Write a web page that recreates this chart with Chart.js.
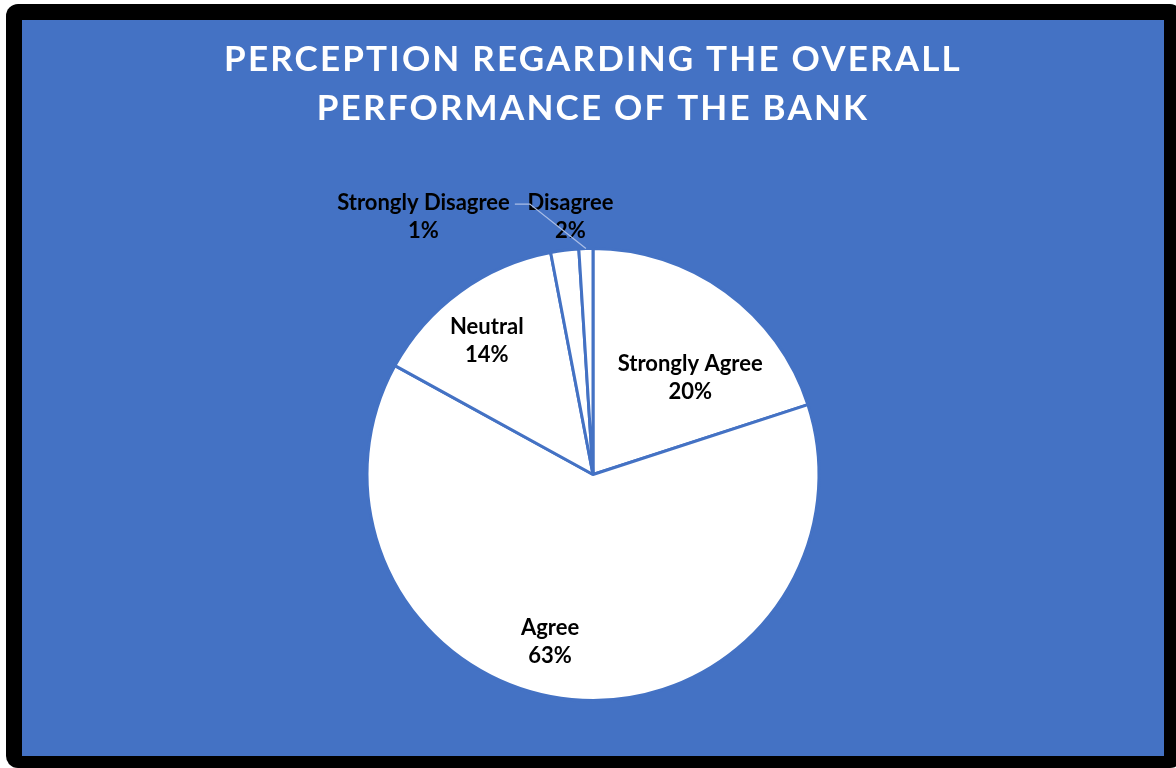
<!DOCTYPE html>
<html>
<head>
<meta charset="utf-8">
<script src="https://cdn.jsdelivr.net/npm/chart.js@4.4.1/dist/chart.umd.min.js"></script>
<style>
  html, body { margin: 0; padding: 0; background: #fff; }
  #frame {
    position: absolute; left: 6px; top: 4px; width: 1176px; height: 764px;
    background: #000; border-radius: 12px;
  }
  #box {
    position: absolute; left: 22px; top: 20px; width: 1142px; height: 736px;
    background: #4472C4;
  }
</style>
</head>
<body>
<div id="frame"></div>
<div id="box"><canvas id="myChart"></canvas></div>
<script>
var categories = ['Strongly Agree', 'Agree', 'Neutral', 'Disagree', 'Strongly Disagree']
var shares = [20, 63, 14, 2, 1]
var titleLines = ['PERCEPTION REGARDING THE OVERALL', 'PERFORMANCE OF THE BANK']

var blue = '#4472C4'

// where each label sits, in units of the pie radius from its centre
var labelSpots = [[0.43, -0.46], [-0.19, 0.71], [-0.47, -0.62], [-0.10, -1.17], [-0.75, -1.17]]

var titleSpacing = {
    id: 'titleSpacing',
    beforeDraw: function(chart) { chart.ctx.letterSpacing = '2.2px' },
    beforeDatasetsDraw: function(chart) { chart.ctx.letterSpacing = '0px' }
}

var sliceLabels = {
    id: 'sliceLabels',
    afterDatasetsDraw: function(chart) {
        var ctx = chart.ctx
        var arcs = chart.getDatasetMeta(0).data
        var cx = arcs[0].x, cy = arcs[0].y, r = arcs[0].outerRadius
        ctx.save()
        ctx.letterSpacing = '0px'
        ctx.font = 'bold 22px Lato'
        ctx.fillStyle = '#000'
        ctx.textAlign = 'center'
        ctx.textBaseline = 'alphabetic'
        arcs.forEach(function(arc, i) {
            var x = cx + labelSpots[i][0] * r
            var y = cy + labelSpots[i][1] * r
            ctx.fillText(categories[i], x, y)
            ctx.fillText(shares[i] + '%', x, y + 28)
            // leader line for the thinnest slice
            if (i === 4) {
                var mid = (arc.startAngle + arc.endAngle) / 2
                var w = ctx.measureText(categories[i]).width
                var lx = x + w / 2 + 5, ly = y - 6
                ctx.beginPath()
                ctx.strokeStyle = '#A9BDE6'
                ctx.lineWidth = 1.3
                ctx.moveTo(lx, ly)
                ctx.lineTo(lx + 15, ly)
                ctx.lineTo(cx + Math.cos(mid) * r, cy + Math.sin(mid) * r)
                ctx.stroke()
            }
        })
        ctx.restore()
    }
}

var ctx = document.getElementById('myChart')

var myChart = new Chart(ctx, {
    type: 'pie',
    data: {
        labels: categories,
        datasets: [{
            data: shares,
            backgroundColor: '#FFFFFF',
            borderColor: blue,
            borderWidth: 3
        }]
    },
    options: {
        responsive: true,
        maintainAspectRatio: false,
        animation: false,
        layout: { padding: { top: 0, bottom: 54, left: 0, right: 0 } },
        plugins: {
            legend: { display: false },
            tooltip: { enabled: false },
            title: {
                display: true,
                text: titleLines,
                color: '#FFFFFF',
                font: { family: 'Lato', size: 35, weight: 'bold', lineHeight: 1.4 },
                padding: { top: 15, bottom: 114 }
            }
        }
    },
    plugins: [titleSpacing, sliceLabels]
})
</script>
</body>
</html>
